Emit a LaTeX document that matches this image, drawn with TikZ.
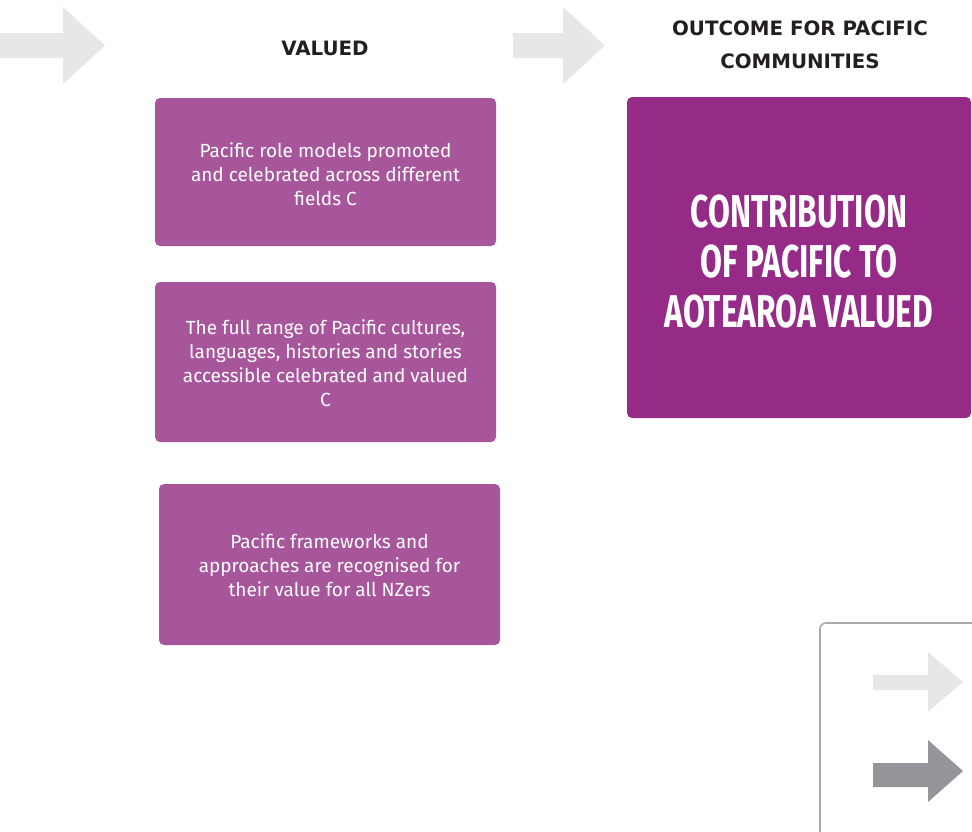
\documentclass[tikz,border=0pt]{standalone}
\usepackage{fontspec}
\setmainfont{Fira Sans}
\newfontfamily\headfont[FakeStretch=0.69]{Fira Sans}
\newfontfamily\capsfont{DejaVu Sans}
\definecolor{lightplum}{HTML}{A8569C}
\definecolor{deepplum}{HTML}{952B87}
\definecolor{arrowgrey}{HTML}{E6E7E8}
\definecolor{darkgrey}{HTML}{939598}
\definecolor{framegrey}{HTML}{A7A9AC}
\definecolor{inktext}{HTML}{231F20}
\tikzset{
  outbox/.style={fill=lightplum, rounded corners=5pt},
  outtext/.style={text=white, align=center, font=\fontsize{19}{24}\selectfont},
  bigbox/.style={fill=deepplum, rounded corners=5pt},
  bigtext/.style={text=white, align=center, font=\headfont\bfseries\fontsize{46}{50}\selectfont},
  colhead/.style={text=inktext, align=center, font=\capsfont\bfseries\fontsize{19.8}{33}\selectfont}
}
\begin{document}
\begin{tikzpicture}[x=1pt, y=-1pt]
\useasboundingbox (0,0) rectangle (972,831);
\clip (0,0) rectangle (972,831);

% flow arrows along the top
\fill [arrowgrey] (-5,33) -- (63,33) -- (63,7) -- (105,45.5) -- (63,84) -- (63,58) -- (-5,58) -- cycle;
\fill [arrowgrey] (513,33) -- (563,33) -- (563,7) -- (605,45.5) -- (563,84) -- (563,58) -- (513,58) -- cycle;

\node [colhead] (valued) at (325,48) {VALUED};
\node [colhead] (outcome) at (800,45) {OUTCOME FOR PACIFIC\\COMMUNITIES};

% intermediate outcomes
\path [outbox] (155,98) rectangle (496,246);
\node [outtext] (roles) at (325.5,174) {Pacific role models promoted\\and celebrated across different\\fields C};

\path [outbox] (155,282) rectangle (496,442);
\node [outtext] (cultures) at (325.5,363) {The full range of Pacific cultures,\\languages, histories and stories\\accessible celebrated and valued\\C};

\path [outbox] (159,484) rectangle (500,645);
\node [outtext] (frames) at (329.5,565) {Pacific frameworks and\\approaches are recognised for\\their value for all NZers};

% community outcome
\path [bigbox] (627,97) rectangle (971,418);
\node [bigtext] (contrib) at (799,262) {CONTRIBUTION\\OF PACIFIC TO\\AOTEAROA VALUED};

% key
\draw [framegrey, line width=1.6pt, rounded corners=6pt] (990,623) -- (820,623) -- (820,850);
\fill [arrowgrey] (873,675) -- (928,675) -- (928,652) -- (963,682) -- (928,712) -- (928,690) -- (873,690) -- cycle;
\fill [darkgrey] (873,763) -- (928,763) -- (928,740) -- (963,771) -- (928,802) -- (928,787) -- (873,787) -- cycle;

\end{tikzpicture}
\end{document}
